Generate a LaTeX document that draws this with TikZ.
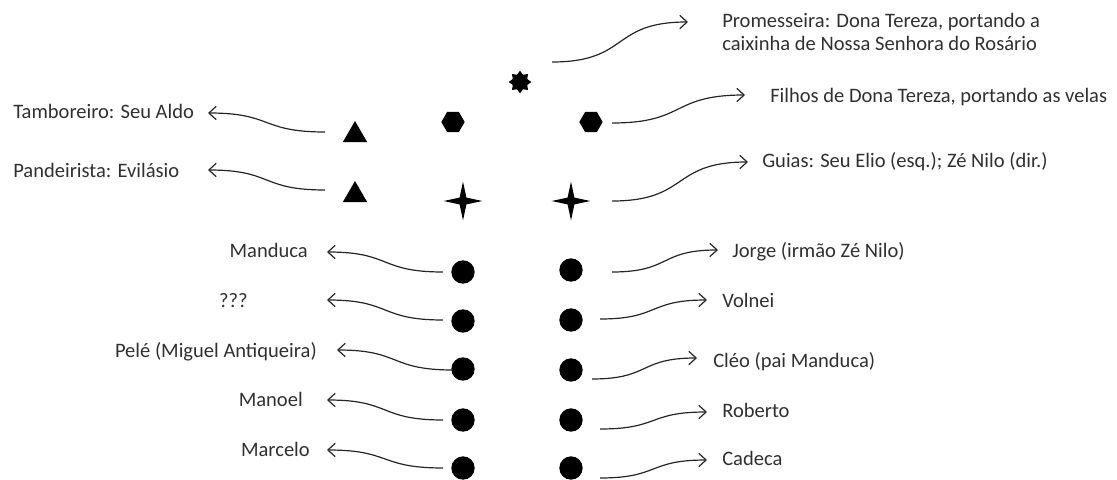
\documentclass[tikz,border=0pt]{standalone}
\usepackage{fontspec}
\setmainfont{Carlito}
\usetikzlibrary{arrows.meta,shapes.geometric}
\definecolor{txt}{HTML}{303030}
\begin{document}
\begin{tikzpicture}[x=0.75pt,y=-0.75pt,
  lbl/.style={inner sep=0pt,text=txt,font=\fontsize{15.4}{17}\selectfont},
  conn/.style={line width=0.9pt,draw=black!85,-{Straight Barb[length=5.5pt,width=10pt,line width=0.9pt]}},
  rconn/.style={conn,out=0,in=180,looseness=1.4},
  lconn/.style={conn,out=180,in=0,looseness=1.4},
  dotshape/.style={circle,fill=black,inner sep=0pt,minimum size=17.5pt},
  hexshape/.style={regular polygon,regular polygon sides=6,fill=black,inner sep=0pt,minimum size=17.5pt},
  trishape/.style={regular polygon,regular polygon sides=3,fill=black,inner sep=0pt,minimum size=21pt},
  sunshape/.style={star,star points=8,star point ratio=1.45,fill=black,inner sep=0pt,minimum size=17pt},
  sparkshape/.style={star,star points=4,star point ratio=4.0,fill=black,inner sep=0pt,minimum size=29pt}
]
\useasboundingbox (0,0) rectangle (1117,479);
\clip (0,0) rectangle (1117,479);

% shapes
\node[sunshape] (sun) at (520,82) {};
\node[hexshape] (hexL) at (453,122) {};
\node[hexshape] (hexR) at (591,122) {};
\node[trishape] (triA) at (355,135) {};
\node[trishape] (triB) at (355,195) {};
\node[sparkshape] (spkL) at (463,201) {};
\node[sparkshape] (spkR) at (571,201) {};
\node[dotshape] (dL1) at (463,272) {};
\node[dotshape] (dL2) at (463,321) {};
\node[dotshape] (dL3) at (463,369) {};
\node[dotshape] (dL4) at (463,420) {};
\node[dotshape] (dL5) at (463,468) {};
\node[dotshape] (dR1) at (571,270) {};
\node[dotshape] (dR2) at (571,320) {};
\node[dotshape] (dR3) at (571,370) {};
\node[dotshape] (dR4) at (571,420) {};
\node[dotshape] (dR5) at (571,468) {};

% labels
\node[lbl,anchor=base west] (tamb) at (13,118) {Tamboreiro: Seu Aldo};
\node[lbl,anchor=base west] (pand) at (13,177) {Pandeirista: Evilásio};
\node[lbl,anchor=base east] (mand) at (308,257) {Manduca};
\node[lbl,anchor=base east] (unk) at (248,307) {???};
\node[lbl,anchor=base east] (pele) at (317,357) {Pelé (Miguel Antiqueira)};
\node[lbl,anchor=base east] (manoel) at (303,406) {Manoel};
\node[lbl,anchor=base east] (marcelo) at (310,456) {Marcelo};
\node[lbl,anchor=base west] (jorge) at (732,257) {Jorge (irmão Zé Nilo)};
\node[lbl,anchor=base west] (volnei) at (722,307) {Volnei};
\node[lbl,anchor=base west] (cleo) at (713,367) {Cléo (pai Manduca)};
\node[lbl,anchor=base west] (roberto) at (722,417) {Roberto};
\node[lbl,anchor=base west] (cadeca) at (722,465) {Cadeca};
\node[lbl,anchor=base west] (promA) at (722,27) {Promesseira: Dona Tereza, portando a};
\node[lbl,anchor=base west] (promB) at (722,50) {caixinha de Nossa Senhora do Rosário};
\node[lbl,anchor=base west] (filhos) at (770,102) {Filhos de Dona Tereza, portando as velas};
\node[lbl,anchor=base west] (guias) at (762,167) {Guias: Seu Elio (esq.); Zé Nilo (dir.)};

% connector ends
\coordinate (tTamb) at (325,132); \coordinate (hTamb) at (208,113);
\coordinate (tPand) at (325,190); \coordinate (hPand) at (208,170);
\coordinate (tMand) at (443,272); \coordinate (hMand) at (327,252);
\coordinate (tUnk) at (443,320); \coordinate (hUnk) at (327,300);
\coordinate (tPele) at (453,370); \coordinate (hPele) at (337,350);
\coordinate (tManoel) at (443,420); \coordinate (hManoel) at (327,400);
\coordinate (tMarcelo) at (443,468); \coordinate (hMarcelo) at (327,450);
\coordinate (tJorge) at (612,272); \coordinate (hJorge) at (718,250);
\coordinate (tVolnei) at (600,319); \coordinate (hVolnei) at (707,300);
\coordinate (tCleo) at (592,379); \coordinate (hCleo) at (697,358);
\coordinate (tRoberto) at (600,429); \coordinate (hRoberto) at (707,412);
\coordinate (tCadeca) at (600,478); \coordinate (hCadeca) at (707,460);
\coordinate (tProm) at (552,62); \coordinate (hProm) at (688,22);
\coordinate (tFilhos) at (612,123); \coordinate (hFilhos) at (745,95);
\coordinate (tGuias) at (612,201); \coordinate (hGuias) at (748,162);

% connectors
\draw[lconn] (tTamb) to (hTamb);
\draw[lconn] (tPand) to (hPand);
\draw[lconn] (tMand) to (hMand);
\draw[lconn] (tUnk) to (hUnk);
\draw[lconn] (tPele) to (hPele);
\draw[lconn] (tManoel) to (hManoel);
\draw[lconn] (tMarcelo) to (hMarcelo);
\draw[rconn] (tJorge) to (hJorge);
\draw[rconn] (tVolnei) to (hVolnei);
\draw[rconn] (tCleo) to (hCleo);
\draw[rconn] (tRoberto) to (hRoberto);
\draw[rconn] (tCadeca) to (hCadeca);
\draw[rconn] (tProm) to (hProm);
\draw[rconn] (tFilhos) to (hFilhos);
\draw[rconn] (tGuias) to (hGuias);
\end{tikzpicture}
\end{document}
